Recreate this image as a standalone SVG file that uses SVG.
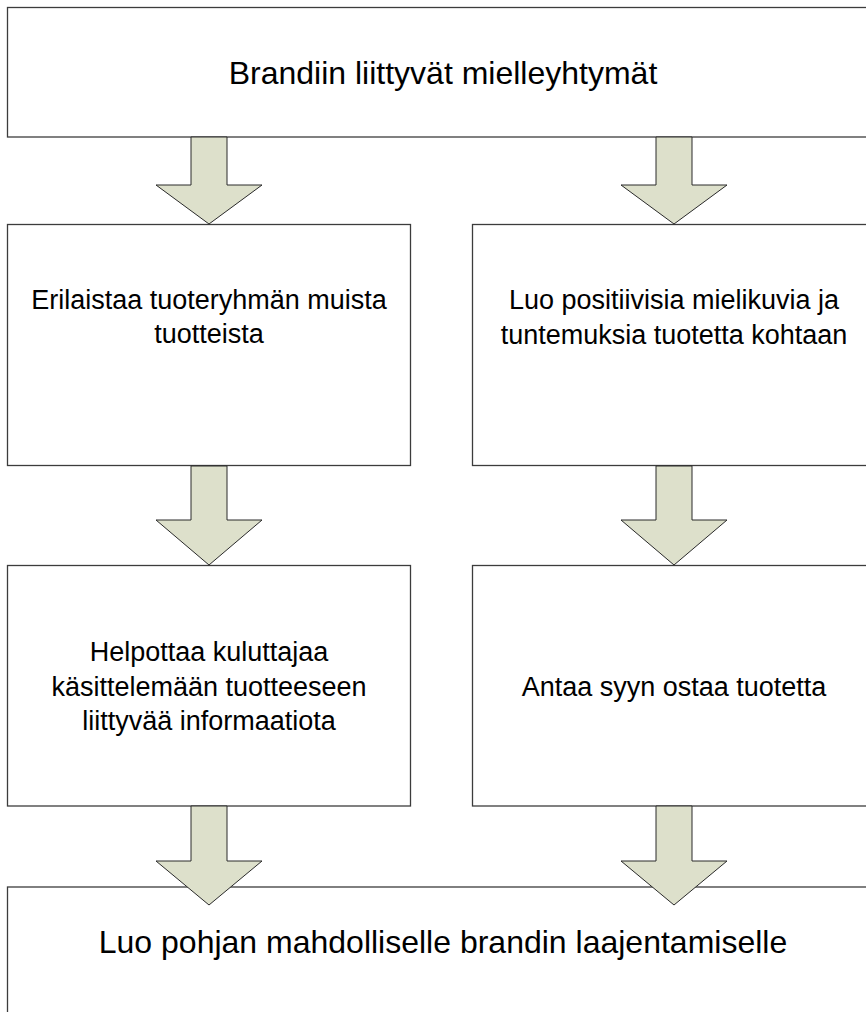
<svg xmlns="http://www.w3.org/2000/svg" width="866" height="1012" viewBox="0 0 866 1012">
  <style>
    .box { fill: #ffffff; stroke: #3c3c3c; stroke-width: 1.3; }
    .arrow { fill: #dde0cb; stroke: #2a2a2a; stroke-width: 1; stroke-linejoin: miter; }
    .big { font-family: "Liberation Sans", Arial, sans-serif; font-size: 32px; fill: #000; text-anchor: middle; }
    .mid { font-family: "Liberation Sans", Arial, sans-serif; font-size: 27px; fill: #000; text-anchor: middle; }
  </style>
  <rect width="866" height="1012" fill="#ffffff"/>

  <g id="node-top">
    <rect class="box" x="7.5" y="7.5" width="872" height="129.5"/>
    <text class="big" x="443" y="84">Brandiin liittyvät mielleyhtymät</text>
  </g>

  <g id="node-erilaistaa">
    <rect class="box" x="7.5" y="224.5" width="403" height="241"/>
    <text class="mid" x="209" y="309">Erilaistaa tuoteryhmän muista</text>
    <text class="mid" x="209" y="343">tuotteista</text>
  </g>

  <g id="node-positiivisia">
    <rect class="box" x="472.5" y="224.5" width="403" height="241"/>
    <text class="mid" x="674" y="309">Luo positiivisia mielikuvia ja</text>
    <text class="mid" x="674" y="344">tuntemuksia tuotetta kohtaan</text>
  </g>

  <g id="node-helpottaa">
    <rect class="box" x="7.5" y="565.5" width="403" height="240.5"/>
    <text class="mid" x="209" y="661">Helpottaa kuluttajaa</text>
    <text class="mid" x="209" y="696">käsittelemään tuotteeseen</text>
    <text class="mid" x="209" y="730">liittyvää informaatiota</text>
  </g>

  <g id="node-antaa">
    <rect class="box" x="472.5" y="565.5" width="403" height="240.5"/>
    <text class="mid" x="674" y="696">Antaa syyn ostaa tuotetta</text>
  </g>

  <g id="node-bottom">
    <rect class="box" x="7.5" y="887" width="872" height="140"/>
    <text class="big" x="443" y="953">Luo pohjan mahdolliselle brandin laajentamiselle</text>
  </g>

  <g id="connectors">
    <!-- block arrows: shaft 36 wide, head 106 wide -->
    <polygon class="arrow" points="191,137 227,137 227,185 262,185 209,224 156,185 191,185"/>
    <polygon class="arrow" points="656,137 692,137 692,185 727,185 674,224 621,185 656,185"/>
    <polygon class="arrow" points="191,466 227,466 227,520 262,520 209,565 156,520 191,520"/>
    <polygon class="arrow" points="656,466 692,466 692,520 727,520 674,565 621,520 656,520"/>
    <polygon class="arrow" points="191,806 227,806 227,861 262,861 209,905 156,861 191,861"/>
    <polygon class="arrow" points="656,806 692,806 692,861 727,861 674,905 621,861 656,861"/>
  </g>
</svg>
